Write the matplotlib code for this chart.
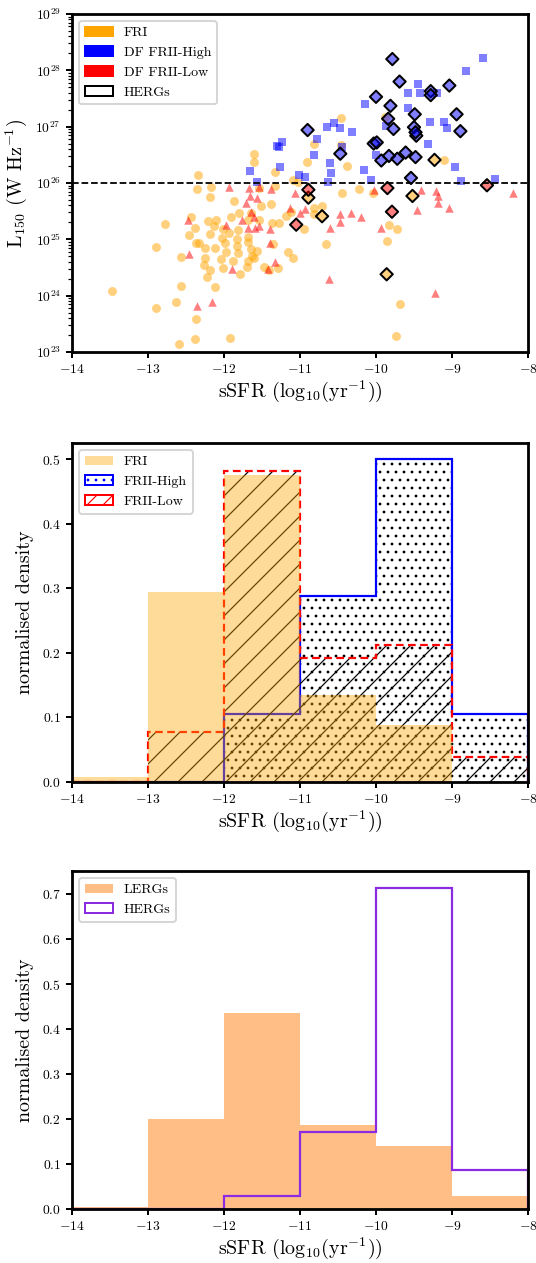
import matplotlib
matplotlib.use("Agg")
import matplotlib.pyplot as plt
from matplotlib.colors import to_rgba
from matplotlib.patches import Patch
import numpy as np

plt.rcParams["font.family"] = "serif"
plt.rcParams["font.serif"] = ["cmr10", "DejaVu Serif"]
plt.rcParams["mathtext.fontset"] = "cm"
plt.rcParams["axes.formatter.use_mathtext"] = True
plt.rcParams["hatch.linewidth"] = 0.6

# ---- scatter data: (log10 sSFR, log10 L150) ----
FRI_SSFR = [-10.46, -10.82, -10.91, -10.46, -10.38, -11.61, -11.61, -11.33, -12.34, -12.36,
            -12.17, -11.09, -11.02, -11.54, -11.33, -10.22, -9.11, -9.88,
            -12.19, -11.87, -11.51, -11.38, -12.77, -12.90, -12.57, -12.44, -12.38, -12.46,
            -12.37, -12.33, -12.21, -12.19, -12.25, -12.12, -12.13, -12.10, -12.25, -12.26,
            -12.19, -12.22, -12.12, -12.56, -12.63, -12.90, -12.37, -12.38, -12.59, -11.92,
            -13.47, -12.03, -11.99, -11.97, -12.04, -12.01, -12.01, -11.93, -11.91, -11.80,
            -11.81, -11.83, -11.83, -11.82, -11.88, -11.79, -11.70, -11.68, -11.63, -11.65,
            -11.68, -11.68, -11.57, -11.61, -11.69, -11.64, -11.54, -11.48, -11.41, -11.29,
            -11.35, -11.37, -11.27, -11.19, -11.16, -11.09, -11.12, -10.95, -10.82, -10.81,
            -10.71, -10.66, -10.45, -10.04, -9.83, -9.72, -9.85, -9.68, -9.74]
FRI_L150 = [27.16, 26.69, 26.38, 26.67, 26.31, 26.51, 26.38, 26.19, 26.15, 25.89,
            25.93, 26.05, 26.02, 25.92, 25.95, 25.89, 26.41, 27.17,
            25.76, 25.68, 25.59, 25.62, 25.27, 24.87, 24.68, 25.39, 25.21, 25.07,
            24.93, 24.93, 25.33, 25.10, 24.84, 24.85, 25.23, 25.35, 24.66, 24.54,
            24.46, 24.34, 24.15, 24.17, 23.88, 23.78, 23.59, 23.23, 23.14, 23.24,
            24.09, 25.03, 24.93, 24.78, 24.65, 24.49, 25.18, 25.11, 25.40, 25.46,
            25.16, 25.01, 24.89, 24.76, 24.62, 24.38, 24.51, 24.61, 24.71, 24.83,
            24.95, 25.05, 24.80, 24.66, 25.35, 25.46, 25.35, 24.50, 24.45, 24.49,
            24.91, 25.29, 25.29, 25.41, 24.78, 24.67, 25.49, 25.18, 25.55, 25.45,
            25.59, 24.91, 25.82, 25.82, 25.25, 25.19, 24.97, 23.86, 23.29]

HIGH_SSFR = [-8.59, -8.81, -9.58, -9.45, -9.42, -9.20, -10.15, -9.58, -9.87, -9.29,
             -9.11, -9.07, -9.31, -10.64, -10.55, -10.47, -10.32, -10.77, -11.24, -11.30,
             -11.28, -11.26, -11.66, -11.57, -10.82, -10.61, -10.59, -10.63, -10.93, -11.01,
             -10.00, -10.16, -10.06, -8.96, -8.88, -8.43, -10.45]
HIGH_L150 = [28.22, 27.98, 27.60, 27.75, 27.59, 27.59, 27.40, 27.34, 27.01, 27.08,
             27.08, 26.97, 26.70, 27.00, 27.06, 26.98, 26.91, 26.78, 26.72, 26.66,
             26.64, 26.29, 26.22, 26.01, 26.49, 26.35, 26.17, 26.02, 26.11, 26.14,
             26.50, 26.23, 26.05, 26.28, 26.04, 26.07, 26.64]

LOW_SSFR = [-11.93, -11.67, -11.54, -11.38, -11.66, -11.57, -11.71, -11.07, -11.13, -11.00,
            -10.93, -12.47, -12.46, -12.35, -12.16, -11.97, -11.89, -11.76, -11.64, -11.61,
            -11.68, -11.59, -11.54, -11.40, -11.40, -11.33, -11.42, -10.61, -10.62, -10.47,
            -10.47, -10.33, -10.20, -10.02, -9.93, -9.41, -9.46, -9.21, -9.19, -9.19,
            -9.04, -9.23, -8.20]
LOW_L150 = [25.93, 25.91, 25.93, 25.89, 25.77, 25.74, 25.65, 25.82, 25.56, 25.46,
            25.53, 25.34, 24.74, 23.82, 23.88, 25.25, 24.47, 25.34, 25.48, 25.40,
            25.21, 25.21, 25.23, 24.93, 25.19, 24.60, 24.48, 25.20, 24.30, 25.45,
            25.30, 25.47, 25.40, 25.87, 25.20, 25.87, 25.52, 25.85, 25.77, 25.64,
            25.56, 24.05, 25.82]

# HERGs, with the morphological class of each source
HERG_SSFR = [-9.785, -9.69, -9.28, -9.28, -9.035, -10.00, -9.81, -9.49, -8.94, -9.84,
             -9.77, -9.50, -9.47, -8.89, -10.90, -10.47, -10.03, -9.99, -9.83, -9.93,
             -9.72, -9.61, -9.48, -9.54, -9.48,
             -9.23, -10.89, -10.71, -9.52, -9.86,
             -8.54, -9.85, -10.89, -11.05, -9.79]
HERG_L150 = [28.20, 27.80, 27.63, 27.56, 27.73, 27.53, 27.37, 27.22, 27.22, 27.14,
             26.96, 26.99, 26.84, 26.92, 26.94, 26.52, 26.70, 26.72, 26.48, 26.40,
             26.43, 26.54, 26.46, 26.09, 26.90,
             26.41, 25.74, 25.41, 25.77, 24.38,
             25.96, 25.91, 25.88, 25.26, 25.49]
HERG_CLASS = ["high"] * 25 + ["fri"] * 5 + ["low"] * 5

# ---- histogram data (normalised density per 1-dex bin) ----
BIN_EDGES = [-14, -13, -12, -11, -10, -9, -8]
FRI_DENS = [0.008, 0.295, 0.476, 0.134, 0.089, 0.0]
HIGH_DENS = [0.0, 0.0, 0.106, 0.288, 0.500, 0.106]
LOW_DENS = [0.0, 0.077, 0.482, 0.192, 0.212, 0.038]
LERG_DENS = [0.004, 0.200, 0.437, 0.187, 0.141, 0.028]
HERG_DENS = [0.0, 0.0, 0.029, 0.171, 0.714, 0.086]

CLASS_COLORS = {"fri": "orange", "high": "blue", "low": "red"}
SSFR_LABEL = r"sSFR (log$_{10}$(yr$^{-1}$))"

W, H, DPI = 536, 1263, 144
fig = plt.figure(figsize=(W / DPI, H / DPI), dpi=DPI)


def axes_px(left, top, right, bottom):
    return fig.add_axes([left / W, 1 - bottom / H, (right - left) / W, (bottom - top) / H])


def style_axes(ax):
    for spine in ax.spines.values():
        spine.set_linewidth(1.4)
    ax.tick_params(which="major", labelsize=6.8, width=1.0, length=3, direction="out", pad=2.5)
    ax.tick_params(which="minor", width=0.6, length=1.8)
    ax.set_xlim(-14, -8)
    ax.set_xticks(np.arange(-14, -7, 1))
    ax.set_xlabel(SSFR_LABEL, fontsize=10, labelpad=1)


# ---- panel 1: scatter ----
ax1 = axes_px(72, 14, 528, 352)
ax1.scatter(FRI_SSFR, 10 ** np.array(FRI_L150), s=20, marker="o", color="orange", alpha=0.5, linewidths=0)
ax1.scatter(HIGH_SSFR, 10 ** np.array(HIGH_L150), s=13, marker="s", color="blue", alpha=0.5, linewidths=0)
ax1.scatter(LOW_SSFR, 10 ** np.array(LOW_L150), s=18, marker="^", color="red", alpha=0.5, linewidths=0)
herg_faces = [to_rgba(CLASS_COLORS[c], 0.5) for c in HERG_CLASS]
ax1.scatter(HERG_SSFR, 10 ** np.array(HERG_L150), s=19, marker="D", facecolors=herg_faces,
            edgecolors="black", linewidths=1.0)
ax1.axhline(1e26, color="black", linestyle="--", linewidth=0.9)
ax1.set_yscale("log")
ax1.set_ylim(1e23, 1e29)
style_axes(ax1)
ax1.set_ylabel(r"L$_{150}$ (W Hz$^{-1}$)", fontsize=10, labelpad=3)
handles1 = [
    Patch(color="orange", label="FRI"),
    Patch(color="blue", label="DF FRII-High"),
    Patch(color="red", label="DF FRII-Low"),
    Patch(facecolor="white", edgecolor="black", label="HERGs"),
]
ax1.legend(handles=handles1, loc="upper left", fontsize=7)

# ---- panel 2: FRI / FRII-High / FRII-Low densities ----
ax2 = axes_px(72, 443, 528, 782)
ax2.stairs(HIGH_DENS, BIN_EDGES, fill=True, facecolor="none", edgecolor="black", hatch="...", linewidth=0)
ax2.stairs(HIGH_DENS, BIN_EDGES, color="blue", linewidth=1.1)
ax2.stairs(LOW_DENS, BIN_EDGES, fill=True, facecolor="none", edgecolor="black", hatch="//", linewidth=0)
ax2.stairs(LOW_DENS, BIN_EDGES, color="red", linewidth=1.1, linestyle=(0, (3.5, 2)))
ax2.stairs(FRI_DENS, BIN_EDGES, fill=True, color="orange", alpha=0.4, linewidth=0)
ax2.set_ylim(0, 0.525)
style_axes(ax2)
ax2.set_ylabel("normalised density", fontsize=10)
handles2 = [
    Patch(facecolor="orange", alpha=0.4, label="FRI"),
    Patch(facecolor="white", edgecolor="blue", hatch="...", label="FRII-High"),
    Patch(facecolor="white", edgecolor="red", hatch="///", label="FRII-Low"),
]
ax2.legend(handles=handles2, loc="upper left", fontsize=7)

# ---- panel 3: LERG / HERG densities ----
ax3 = axes_px(72, 871, 528, 1209)
ax3.stairs(LERG_DENS, BIN_EDGES, fill=True, color="tab:orange", alpha=0.5, linewidth=0)
ax3.stairs(HERG_DENS, BIN_EDGES, color="blueviolet", linewidth=1.1)
ax3.set_ylim(0, 0.752)
style_axes(ax3)
ax3.set_ylabel("normalised density", fontsize=10)
handles3 = [
    Patch(facecolor="tab:orange", alpha=0.5, label="LERGs"),
    Patch(facecolor="white", edgecolor="blueviolet", label="HERGs"),
]
ax3.legend(handles=handles3, loc="upper left", fontsize=7)

fig.savefig("out.png", dpi=DPI)
